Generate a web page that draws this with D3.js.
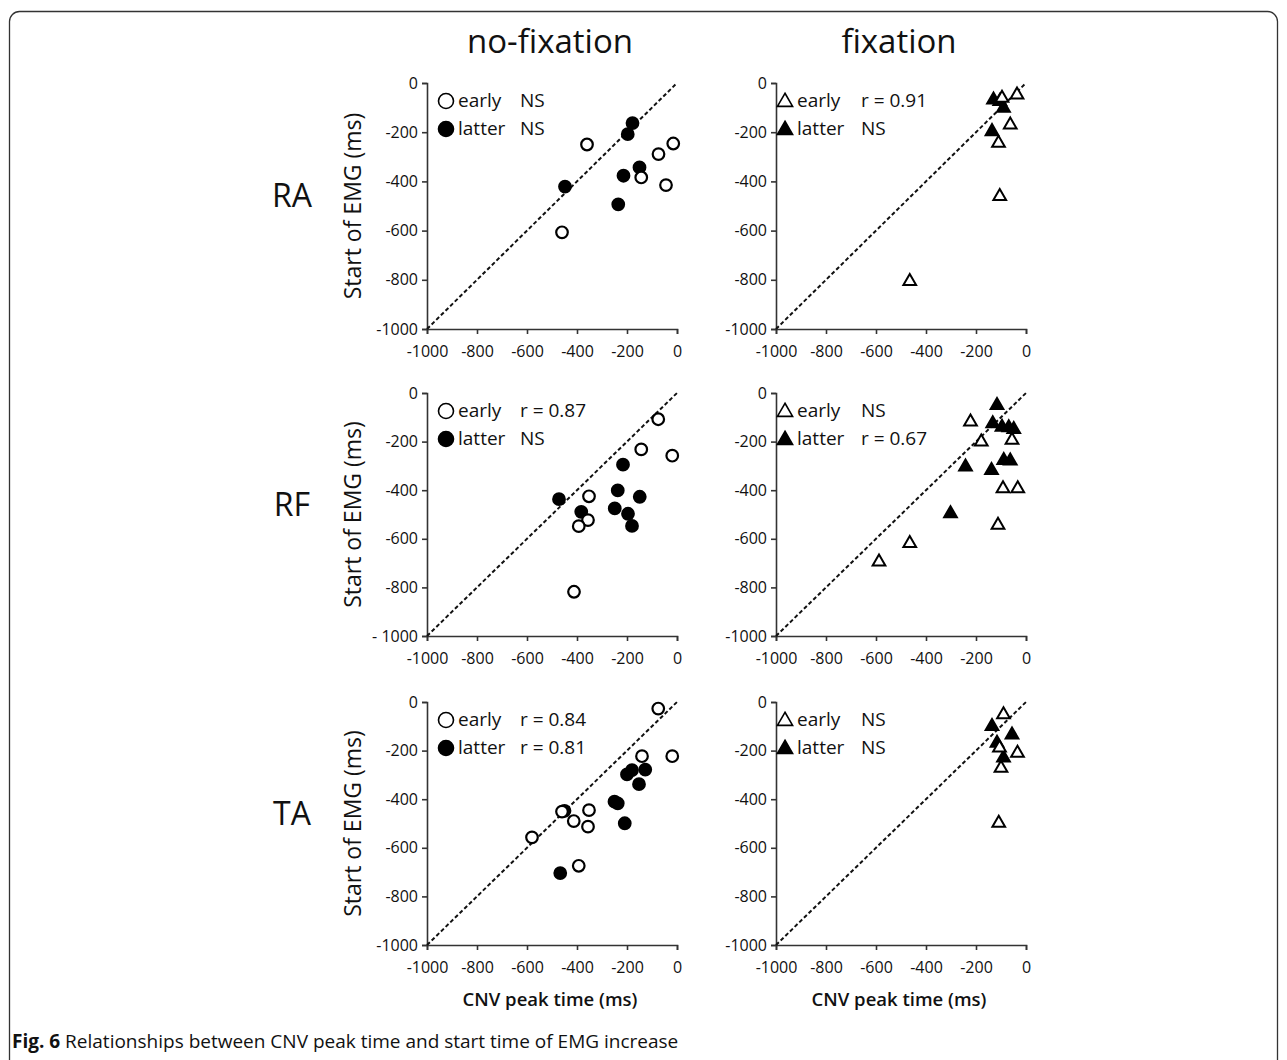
<!DOCTYPE html>
<html>
<head>
<meta charset="utf-8">
<script src="https://cdn.jsdelivr.net/npm/d3@7"></script>
<style>
  body { margin: 0; background: #fff; }
  text { font-family: "Open Sans", "Noto Sans", sans-serif; fill: #111; }
</style>
</head>
<body>
<svg id="fig" width="1287" height="1060"></svg>
<script>
// values, [CNV peak time, start of EMG] in ms
var raNoFixEarly  = [[-360,-250],[-460,-607],[-143,-384],[-74,-289],[-15,-246],[-44,-415]];
var raNoFixLatter = [[-178,-163],[-197,-208],[-448,-421],[-150,-343],[-214,-377],[-235,-493]];
var raFixEarly    = [[-36,-48],[-96,-61],[-63,-170],[-110,-244],[-105,-461],[-465,-806]];
var raFixLatter   = [[-130,-68],[-105,-75],[-90,-102],[-136,-197]];

var rfNoFixEarly  = [[-75,-108],[-143,-232],[-19,-258],[-352,-425],[-356,-523],[-393,-548],[-412,-818]];
var rfNoFixLatter = [[-216,-295],[-472,-437],[-237,-401],[-149,-427],[-383,-489],[-249,-475],[-196,-497],[-180,-547]];
var rfFixEarly    = [[-222,-119],[-179,-201],[-56,-194],[-92,-393],[-33,-393],[-112,-544],[-465,-619],[-588,-695]];
var rfFixLatter   = [[-116,-51],[-133,-126],[-96,-140],[-69,-142],[-49,-150],[-89,-277],[-63,-279],[-242,-304],[-138,-318],[-302,-496]];

var taNoFixEarly  = [[-75,-27],[-140,-223],[-19,-223],[-460,-451],[-352,-445],[-413,-490],[-356,-513],[-580,-557],[-393,-674]];
var taNoFixLatter = [[-180,-280],[-200,-298],[-127,-278],[-152,-338],[-250,-410],[-237,-417],[-209,-499],[-467,-704],[-450,-448]];
var taFixEarly    = [[-90,-52],[-106,-189],[-34,-210],[-100,-272],[-109,-498]];
var taFixLatter   = [[-136,-100],[-56,-135],[-116,-169],[-90,-230]];

var tickValues = [-1000,-800,-600,-400,-200,0];
var tickLabels = ["-1000","-800","-600","-400","-200","0"];
var tickLabelsSpaced = ["- 1000","-800","-600","-400","-200","0"];

var columns = ["no-fixation","fixation"];
var rows = ["RA","RF","TA"];
var seriesNames = ["early","latter"];
var stats = [["NS","NS"],["r = 0.91","NS"],["r = 0.87","NS"],["NS","r = 0.67"],["r = 0.84","r = 0.81"],["NS","NS"]];

var panels = [
  {row:0, col:0, early:raNoFixEarly, latter:raNoFixLatter, stat:stats[0]},
  {row:0, col:1, early:raFixEarly,   latter:raFixLatter,   stat:stats[1]},
  {row:1, col:0, early:rfNoFixEarly, latter:rfNoFixLatter, stat:stats[2], yLabels:tickLabelsSpaced},
  {row:1, col:1, early:rfFixEarly,   latter:rfFixLatter,   stat:stats[3]},
  {row:2, col:0, early:taNoFixEarly, latter:taNoFixLatter, stat:stats[4]},
  {row:2, col:1, early:taFixEarly,   latter:taFixLatter,   stat:stats[5]}
];

var svg = d3.select("#fig");

// outer frame
svg.append("rect")
  .attr("x", 9.5).attr("y", 11.5)
  .attr("width", 1268).attr("height", 1080)
  .attr("rx", 10)
  .attr("fill", "none").attr("stroke", "#333").attr("stroke-width", 1.3);

var colLeft = [427, 776], plotW = 250;
var rowTop = [83, 393, 702], rowH = [246, 243, 243];

columns.forEach(function(c, i){
  svg.append("text")
    .attr("x", colLeft[i] + plotW/2 - 2).attr("y", 53)
    .attr("text-anchor", "middle")
    .style("font-size", "33px")
    .text(c);
  svg.append("text")
    .attr("x", colLeft[i] + plotW/2 - 2).attr("y", 1006)
    .attr("text-anchor", "middle")
    .style("font-size", "18.5px").style("font-weight", "600")
    .text("CNV peak time (ms)");
});

rows.forEach(function(r, i){
  svg.append("text")
    .attr("x", 292).attr("y", rowTop[i] + rowH[i]/2 + 1)
    .attr("text-anchor", "middle")
    .style("font-size", "32px")
    .text(r);
});

var triangle = d3.symbol().type(d3.symbolTriangle);

panels.forEach(function(p){
  var left = colLeft[p.col], top = rowTop[p.row], h = rowH[p.row];
  var g = svg.append("g").attr("transform", "translate(" + left + "," + top + ")");

  var x = d3.scaleLinear().domain([-1000, 0]).range([0, plotW]);
  var y = d3.scaleLinear().domain([-1000, 0]).range([h, 0]);
  var yl = p.yLabels || tickLabels;

  var xAxis = d3.axisBottom(x).tickValues(tickValues).tickSize(5).tickPadding(12)
    .tickFormat(function(d, i){ return tickLabels[i]; });
  var yAxis = d3.axisLeft(y).tickValues(tickValues).tickSize(5).tickPadding(4)
    .tickFormat(function(d, i){ return yl[i]; });

  var gx = g.append("g").attr("transform", "translate(0," + h + ")").call(xAxis);
  var gy = g.append("g").call(yAxis);
  [gx, gy].forEach(function(a){
    a.select(".domain").attr("stroke", "#333").attr("stroke-width", 1.6);
    a.selectAll(".tick line").attr("stroke", "#333").attr("stroke-width", 1.6);
    a.selectAll(".tick text")
      .style("font-family", "'Open Sans', sans-serif")
      .style("font-size", "16px").attr("fill", "#111");
  });

  if (p.col == 0) {
    g.append("text")
      .attr("transform", "rotate(-90)")
      .attr("x", -h/2).attr("y", -66)
      .attr("text-anchor", "middle")
      .style("font-size", "23px")
      .text("Start of EMG (ms)");
  }

  // identity line
  g.append("line")
    .attr("x1", x(-1000)).attr("y1", y(-1000))
    .attr("x2", x(0)).attr("y2", y(0))
    .attr("stroke", "#111").attr("stroke-width", 2)
    .attr("stroke-dasharray", "4,2.5");

  var isTri = p.col == 1;

  function drawMarks(data, filled){
    var sel = g.selectAll(null).data(data).enter();
    if (isTri) {
      sel.append("path")
        .attr("d", triangle.size(70)())
        .attr("transform", function(d){ return "translate(" + x(d[0]) + "," + y(d[1]) + ")"; })
        .attr("fill", filled ? "#000" : "#fff")
        .attr("stroke", "#000").attr("stroke-width", 2);
    } else {
      sel.append("circle")
        .attr("cx", function(d){ return x(d[0]); })
        .attr("cy", function(d){ return y(d[1]); })
        .attr("r", 5.8)
        .attr("fill", filled ? "#000" : "#fff")
        .attr("stroke", "#000").attr("stroke-width", 2.2);
    }
  }
  drawMarks(p.latter, true);
  drawMarks(p.early, false);

  // legend
  var lx = isTri ? 9 : 19, tx = isTri ? 21 : 31, sx = isTri ? 85 : 93;
  seriesNames.forEach(function(s, i){
    var ly = 18 + i * 28;
    if (isTri) {
      g.append("path")
        .attr("d", triangle.size(100)())
        .attr("transform", "translate(" + lx + "," + (ly + 1) + ")")
        .attr("fill", i == 1 ? "#000" : "#fff")
        .attr("stroke", "#000").attr("stroke-width", 1.6);
    } else {
      g.append("circle")
        .attr("cx", lx).attr("cy", ly).attr("r", 7.5)
        .attr("fill", i == 1 ? "#000" : "#fff")
        .attr("stroke", "#000").attr("stroke-width", 1.6);
    }
    g.append("text").attr("x", tx).attr("y", ly + 6)
      .style("font-size", "19px").text(s);
    g.append("text").attr("x", sx).attr("y", ly + 6)
      .style("font-size", "19px").text(p.stat[i]);
  });
});

// caption
var cap = svg.append("text").attr("x", 12).attr("y", 1048).style("font-size", "19px");
cap.append("tspan").style("font-weight", "700").text("Fig. 6");
cap.append("tspan").text(" Relationships between CNV peak time and start time of EMG increase");
</script>
</body>
</html>
